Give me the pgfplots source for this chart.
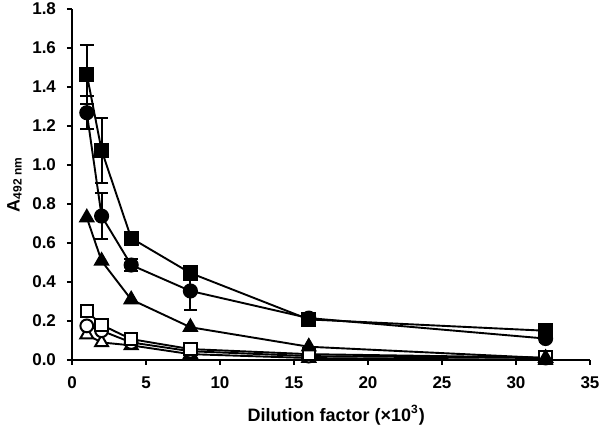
\documentclass[border=0pt]{standalone}
\usepackage{fontspec}
\setmainfont{Liberation Sans}
\usepackage{pgfplots}
\usetikzlibrary{calc}
\pgfplotsset{compat=1.18}
\begin{document}
\begin{tikzpicture}
\begin{axis}[
  scale only axis=true,
  width=259pt, height=175.5pt,
  xmin=0, xmax=35, ymin=0, ymax=1.8,
  axis lines*=left,
  axis line style={line width=1pt},
  xtick={0,5,...,35},
  ytick={0,0.2,...,1.8},
  tick align=outside,
  major tick length=2.5pt,
  tick style={line width=0.8pt, black},
  /pgf/number format/assume math mode=true,
  yticklabel style={/pgf/number format/fixed, /pgf/number format/fixed zerofill, /pgf/number format/precision=1, xshift=-2pt},
  xticklabel style={yshift=-2.3pt},
  ticklabel style={font=\bfseries\fontsize{8.5}{9}\selectfont},
  xlabel={\bfseries Dilution factor (×10\textsuperscript{3})},
  ylabel={\bfseries A\textsubscript{492 nm}},
  label style={font=\bfseries\fontsize{9}{11}\selectfont},
  xlabel style={at={(axis description cs:0.51,-0.157)}, anchor=center},
  ylabel style={at={(axis description cs:-0.111,0.5)}, anchor=center},
  every axis plot/.append style={black, line width=0.95pt},
  clip=false,
]
\coordinate (ll) at (rel axis cs:0,0);
\coordinate (ur) at (rel axis cs:1,1);
% open triangle
\addplot[mark=triangle*, mark size=3.7pt, mark options={fill=white, line width=1pt}] coordinates {
(1,0.13) (2,0.09) (4,0.075) (8,0.03) (16,0.01) (32,0.0)};
% open circle
\addplot[mark=*, mark size=3.2pt, mark options={fill=white, line width=1pt}] coordinates {
(1,0.175) (2,0.15) (4,0.09) (8,0.045) (16,0.02) (32,0.01)};
% open square
\addplot[mark=square*, mark size=3.1pt, mark options={fill=white, line width=1pt}] coordinates {
(1,0.25) (2,0.18) (4,0.107) (8,0.056) (16,0.03) (32,0.012)};
% filled triangle
\addplot[mark=triangle*, mark size=3.8pt, mark options={fill=black}] coordinates {
(1,0.73) (2,0.508) (4,0.31) (8,0.168) (16,0.068) (32,0.01)};
% filled circle
\addplot[mark=*, mark size=3.3pt, mark options={fill=black},
  error bars/.cd, y dir=both, y explicit,
  error bar style={line width=1pt},
  error mark options={rotate=90, mark size=3.4pt, line width=1pt}] coordinates {
(1,1.268) +- (0,0.085)
(2,0.738) +- (0,0.12)
(4,0.487) +- (0,0.03)
(8,0.354) +- (0,0.1)
(16,0.215) +- (0,0.01)
(32,0.11) +- (0,0.02)};
% filled square
\addplot[mark=square*, mark size=3.3pt, mark options={fill=black},
  error bars/.cd, y dir=both, y explicit,
  error bar style={line width=1pt},
  error mark options={rotate=90, mark size=3.4pt, line width=1pt}] coordinates {
(1,1.465) +- (0,0.15)
(2,1.075) +- (0,0.165)
(4,0.625) +- (0,0.01)
(8,0.446) +- (0,0.01)
(16,0.208) +- (0,0.01)
(32,0.15) +- (0,0.02)};
\end{axis}
\pgfresetboundingbox
\useasboundingbox ($(ll)+(-36pt,-34pt)$) rectangle ($(ur)+(5pt,4.5pt)$);
\end{tikzpicture}
\end{document}
